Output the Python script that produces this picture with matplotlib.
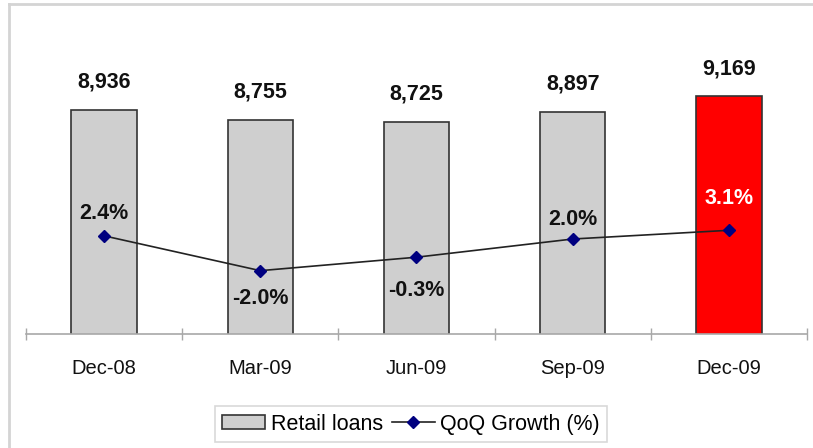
import numpy as np
import matplotlib
matplotlib.use("Agg")
import matplotlib.pyplot as plt
from matplotlib.lines import Line2D

plt.rcParams['font.family'] = ['Liberation Sans', 'DejaVu Sans']

quarters = ['Dec-08', 'Mar-09', 'Jun-09', 'Sep-09', 'Dec-09']
retail_loans = [8936, 8755, 8725, 8897, 9169]
qoq_growth = [2.4, -2.0, -0.3, 2.0, 3.1]
# label offsets in points (positive = above the marker)
growth_offsets = [16, -20, -24, 14, 23]

bar_colors = ['#cfcfcf'] * 4 + ['#ff0000']
growth_colors = ['#111111'] * 4 + ['white']

fig = plt.figure(figsize=(8.13, 4.48), dpi=100)
ax = fig.add_axes([0.032, 0.2545, 0.9606, 0.636])
x = np.arange(len(quarters))

bars = ax.bar(x, retail_loans, width=0.42, color=bar_colors, edgecolor='#333333',
              linewidth=1.2, bottom=0, zorder=2, label='Retail loans')
ax.set_ylim(5000, 10000)
ax.set_xlim(-0.5, len(quarters) - 0.5)
for xi, v in zip(x, retail_loans):
    ax.annotate(f'{v:,}', (xi, v), xytext=(0, 16), textcoords='offset points',
                ha='center', va='baseline', fontsize=15.5, fontweight='bold', color='#111111')

ax2 = ax.twinx()
ax2.set_ylim(-10, 26)
ax2.plot(x, qoq_growth, color='#222222', linewidth=1.2, marker='D', markersize=6,
         markerfacecolor='#000080', markeredgecolor='#000080', zorder=3, label='QoQ Growth (%)')
for xi, g, off, c in zip(x, qoq_growth, growth_offsets, growth_colors):
    ax2.annotate(f'{g:.1f}%', (xi, g), xytext=(0, off), textcoords='offset points',
                 ha='center', va='center', fontsize=15.5, fontweight='bold', color=c)

for a in (ax, ax2):
    for s in ('top', 'right', 'left'):
        a.spines[s].set_visible(False)
    a.set_yticks([])
ax2.spines['bottom'].set_visible(False)
ax.spines['bottom'].set_color('#a8a8a8')
ax.spines['bottom'].set_linewidth(1.2)

ax.set_xticks(x)
ax.set_xticklabels(quarters, fontsize=14.5, color='#111111')
ax.tick_params(axis='x', which='major', length=0, pad=18)
ax.set_xticks(np.arange(-0.5, len(quarters)), minor=True)
ax.tick_params(axis='x', which='minor', direction='inout', length=9, color='#a8a8a8', width=1)

handles = [bars, Line2D([], [], color='#222222', linewidth=1.2, marker='D', markersize=6,
                        markerfacecolor='#000080', markeredgecolor='#000080')]
leg = fig.legend(handles, ['Retail loans', 'QoQ Growth (%)'], loc='center',
                 bbox_to_anchor=(411 / 813, 1 - 424 / 448), ncol=2, fontsize=15.5,
                 frameon=True, fancybox=False, handlelength=2.0, handleheight=0.6,
                 handletextpad=0.25, columnspacing=0.4, borderpad=0.35)
leg.get_frame().set_edgecolor('#cfcfcf')
leg.get_frame().set_linewidth(1.2)

# outer frame lines along the left and top edges
fig.add_artist(Line2D([9 / 813, 9 / 813], [0, 1 - 4 / 448], transform=fig.transFigure,
                      color='#d4d4d4', linewidth=2))
fig.add_artist(Line2D([9 / 813, 1], [1 - 4 / 448, 1 - 4 / 448], transform=fig.transFigure,
                      color='#d4d4d4', linewidth=2))

fig.savefig('out.png', dpi=100)
